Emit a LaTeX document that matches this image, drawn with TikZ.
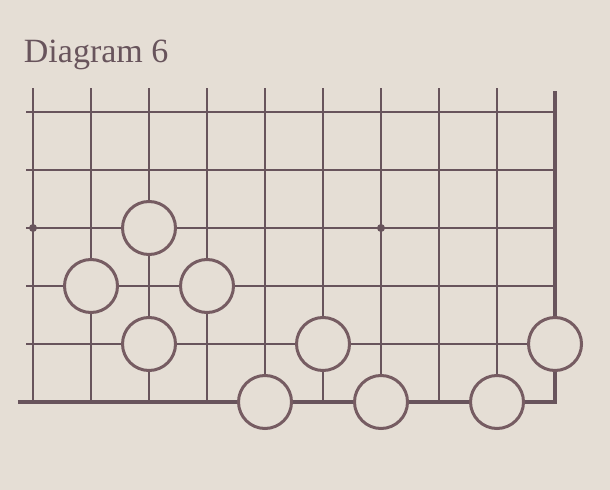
\documentclass[tikz,border=0pt]{standalone}
\usepackage{fontspec}
\setmainfont{Liberation Serif}
\usepackage{tikz}
\usetikzlibrary{positioning}

\definecolor{paper}{RGB}{229,222,213}
\definecolor{ink}{RGB}{104,84,92}
\definecolor{stoneink}{RGB}{118,92,98}

\begin{document}
\begin{tikzpicture}[x=58pt,y=58pt]
\tikzstyle{every node}+=[inner sep=0pt]
\tikzstyle{gridline}=[ink,line width=2.9pt]
\tikzstyle{edgeline}=[ink,line width=3.2pt]
\tikzstyle{white stone}=[circle,draw=stoneink,fill=paper,line width=3pt,minimum size=53pt]
\tikzstyle{hoshi}=[circle,fill=ink,minimum size=8pt]
% page
\fill [paper] (-0.569,-1.517) rectangle (9.948,6.931);
\useasboundingbox (-0.569,-1.517) rectangle (9.948,6.931);
\node [anchor=base west,text=ink] (title) at (-0.16,5.85) {\fontsize{34}{40}\selectfont Diagram 6};
% grid
\foreach \c in {0,...,8}
  \draw [gridline] (\c,0) -- (\c,5.42);
\foreach \r in {1,...,5}
  \draw [gridline] (-0.12,\r) -- (9,\r);
\draw [edgeline] (-0.26,0) -- (9,0) -- (9,5.36);
% star points
\node [hoshi] (h1) at (0,3) {};
\node [hoshi] (h2) at (6,3) {};
% stones
\node [white stone] (w1) at (2,3) {};
\node [white stone] (w2) at (1,2) {};
\node [white stone] (w3) at (3,2) {};
\node [white stone] (w4) at (2,1) {};
\node [white stone] (w5) at (4,0) {};
\node [white stone] (w6) at (5,1) {};
\node [white stone] (w7) at (6,0) {};
\node [white stone] (w8) at (8,0) {};
\node [white stone] (w9) at (9,1) {};
\end{tikzpicture}
\end{document}
